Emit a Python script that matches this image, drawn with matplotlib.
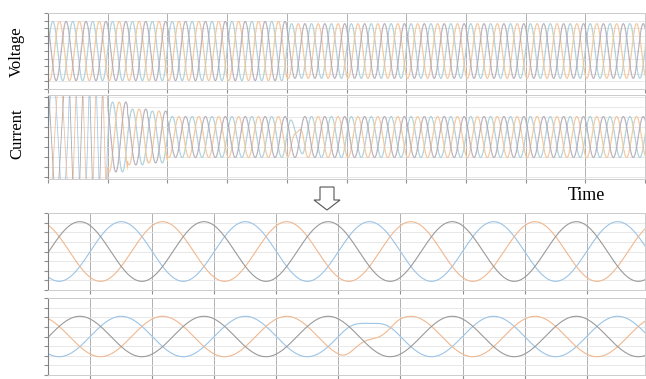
import numpy as np
import matplotlib.pyplot as plt
from matplotlib.patches import Polygon

# ---- long record (top two panels), 10 grid divisions ----
long_divs = 10
long_cycles_per_div = 3
phase_deg = [0, -120, 120]
phase_colors = ["#a6c9e8", "#f2bf9c", "#ababab"]
extra_colors = ["#bfe0ab", "#f2dc92", "#d2b3e0"]
extra_shift_deg = 10

voltage_amp_before = 3.9
voltage_amp_after = 3.6
event_div = 4.0

# current amplitude per cycle during start-up, then steady value
current_cycle_amp = [6.0, 10.0, 12.0, 3.5, 2.8, 2.6]
current_steady_amp = 2.05
current_event_scale = [0.6, 0.25, 1.0]   # blue, orange, gray

# ---- zoomed windows (bottom two panels) ----
zoom_xlim = (0.32, 9.94)
zoom_cycles_per_div = 0.5
zoom_voltage_amp = 3.1
zoom_current_amp = 2.1
zoom_event_start = 5.0
zoom_event_len = 1.0
zoom_event_scale = [0.65, 0.3, 1.0]
zoom_colors = ["#9cc4e6", "#f0b890", "#9a9a9a"]


def style(ax, xlim, xticks, ylim):
    ax.set_xlim(*xlim)
    ax.set_ylim(-ylim, ylim)
    ax.set_xticks(xticks)
    ax.set_yticks(np.arange(-np.floor(ylim), np.floor(ylim) + 1))
    ax.set_xticklabels([])
    ax.set_yticklabels([])
    ax.grid(axis="x", color="#b0b0b0", lw=0.7)
    ax.grid(axis="y", color="#e4e4e4", lw=0.6)
    ax.set_axisbelow(True)
    for side in ["top", "right", "bottom"]:
        ax.spines[side].set_color("#cccccc")
        ax.spines[side].set_linewidth(0.7)
    ax.spines["left"].set_color("#808080")
    ax.spines["left"].set_linewidth(0.8)
    ax.tick_params(length=3, width=0.8, colors="#909090")


def dip(x, start, length, scale):
    # smooth amplitude dip over one window, 1 outside it
    inside = (x >= start) & (x < start + length)
    s = np.sin(np.pi * (x - start) / length) ** 2
    return np.where(inside, 1 - (1 - scale) * s, 1.0)


fig = plt.figure(figsize=(6.46, 3.79), dpi=100)
left, width = 48 / 646, 597 / 646
ax_v = fig.add_axes([left, 1 - 89 / 379, width, 76 / 379])
ax_i = fig.add_axes([left, 1 - 179 / 379, width, 84 / 379])
ax_zv = fig.add_axes([left, 1 - 290 / 379, width, 77 / 379])
ax_zi = fig.add_axes([left, 1 - 375 / 379, width, 77 / 379])

# long record
t = np.linspace(0, long_divs, 12000)
w = 2 * np.pi * long_cycles_per_div * t
v_amp = np.where(t < event_div, voltage_amp_before, voltage_amp_after)
cyc = np.floor(t * long_cycles_per_div).astype(int)
i_amp = np.full_like(t, current_steady_amp)
for k, a in enumerate(current_cycle_amp):
    i_amp[cyc == k] = a
startup = cyc < 3

for ph, c, ce, sc in zip(phase_deg, phase_colors, extra_colors, current_event_scale):
    p = np.deg2rad(ph)
    pe = np.deg2rad(ph + extra_shift_deg)
    ax_v.plot(t, v_amp * np.sin(w + pe), color=ce, lw=0.5, alpha=0.7)
    ax_v.plot(t, v_amp * np.sin(w + p), color=c, lw=0.6)
    amp = i_amp * dip(t, event_div, 1 / long_cycles_per_div, sc)
    ie = np.where(startup, np.nan, amp * np.sin(w + pe))
    ax_i.plot(t, ie, color=ce, lw=0.5, alpha=0.7)
    ax_i.plot(t, amp * np.sin(w + p), color=c, lw=0.6)

style(ax_v, (0, long_divs), np.arange(0, long_divs + 1), 5)
style(ax_i, (0, long_divs), np.arange(0, long_divs + 1), 4.2)

# zoomed windows
tz = np.linspace(*zoom_xlim, 3000)
th = 2 * np.pi * zoom_cycles_per_div * (tz - 1)
for ph, c, sc in zip(phase_deg, zoom_colors, zoom_event_scale):
    p = np.deg2rad(ph)
    ax_zv.plot(tz, zoom_voltage_amp * np.sin(th + p), color=c, lw=0.8)
    amp = zoom_current_amp * dip(tz, zoom_event_start, zoom_event_len, sc)
    ax_zi.plot(tz, amp * np.sin(th + p), color=c, lw=0.8)

style(ax_zv, zoom_xlim, np.arange(1, 10), 4)
style(ax_zi, zoom_xlim, np.arange(1, 10), 4)

# labels
serif = ["Liberation Serif", "DejaVu Serif"]
fig.text(17 / 646, 1 - 52 / 379, "Voltage", rotation=90, ha="center", va="center",
         family=serif, fontsize=12)
fig.text(17 / 646, 1 - 134 / 379, "Current", rotation=90, ha="center", va="center",
         family=serif, fontsize=12)
fig.text(586 / 646, 1 - 195 / 379, "Time", ha="center", va="center",
         family=serif, fontsize=13)

# hollow down arrow between the two halves
px = np.array([320, 334, 334, 340, 327, 314, 320])
py = np.array([187, 187, 200, 200, 210, 200, 200])
arrow = Polygon(np.column_stack([px / 100, (379 - py) / 100]), closed=True,
                facecolor="white", edgecolor="#555555", lw=0.8,
                transform=fig.dpi_scale_trans)
fig.patches.append(arrow)

fig.savefig("out.png", dpi=100)
